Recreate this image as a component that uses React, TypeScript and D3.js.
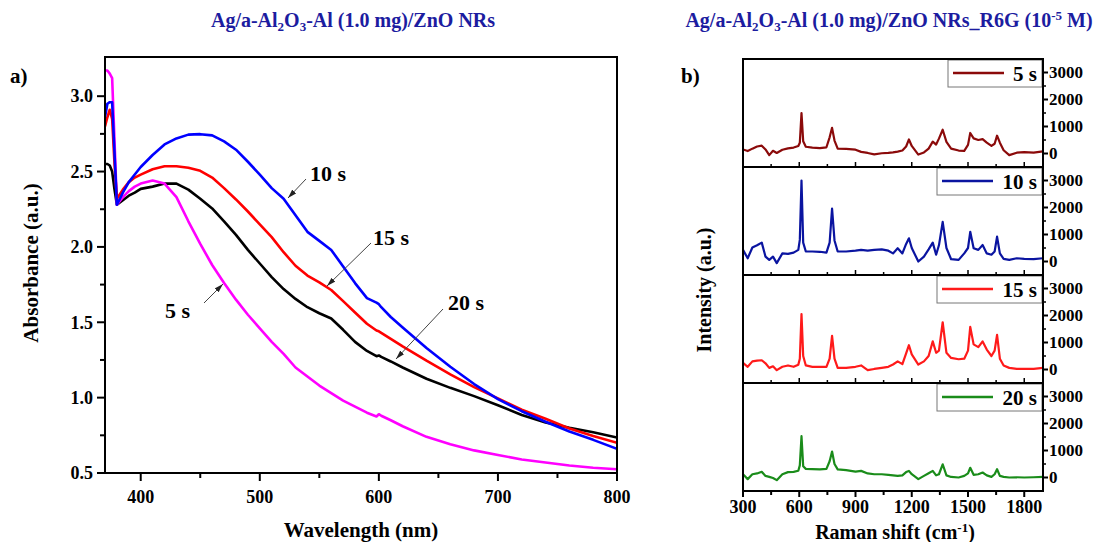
import React from "react";
import * as d3 from "d3";

// ---------- Panel a) UV-vis absorbance ----------
const wavelength = [370, 372, 374, 376, 378, 380, 385, 390, 395, 400, 410, 420, 430, 440, 450, 460, 470, 480, 490, 500, 510, 520, 530, 540, 550, 560, 570, 580, 590, 598, 600, 602, 610, 620, 640, 660, 680, 700, 720, 740, 760, 780, 800];
const abs5s = [3.17, 3.17, 3.15, 3.12, 2.70, 2.28, 2.33, 2.37, 2.40, 2.42, 2.44, 2.42, 2.33, 2.17, 2.02, 1.88, 1.76, 1.65, 1.55, 1.46, 1.37, 1.29, 1.20, 1.14, 1.08, 1.03, 0.98, 0.94, 0.90, 0.875, 0.89, 0.88, 0.85, 0.81, 0.74, 0.69, 0.65, 0.62, 0.59, 0.57, 0.55, 0.535, 0.525];
const abs10s = [2.86, 2.95, 2.96, 2.96, 2.62, 2.28, 2.36, 2.43, 2.48, 2.53, 2.61, 2.68, 2.72, 2.745, 2.748, 2.74, 2.70, 2.645, 2.565, 2.48, 2.39, 2.32, 2.21, 2.10, 2.04, 1.98, 1.87, 1.76, 1.66, 1.63, 1.62, 1.60, 1.535, 1.465, 1.33, 1.205, 1.09, 0.99, 0.91, 0.84, 0.775, 0.72, 0.66];
const abs15s = [2.80, 2.86, 2.91, 2.85, 2.55, 2.32, 2.38, 2.43, 2.46, 2.48, 2.515, 2.535, 2.535, 2.525, 2.505, 2.46, 2.39, 2.315, 2.235, 2.15, 2.065, 1.965, 1.875, 1.81, 1.765, 1.714, 1.64, 1.565, 1.49, 1.445, 1.44, 1.43, 1.39, 1.34, 1.245, 1.155, 1.07, 0.995, 0.92, 0.86, 0.795, 0.745, 0.70];
const abs20s = [2.55, 2.55, 2.54, 2.50, 2.38, 2.28, 2.31, 2.34, 2.36, 2.385, 2.40, 2.42, 2.42, 2.38, 2.32, 2.255, 2.17, 2.08, 1.98, 1.89, 1.80, 1.72, 1.655, 1.60, 1.56, 1.525, 1.45, 1.37, 1.31, 1.275, 1.28, 1.27, 1.24, 1.20, 1.125, 1.065, 1.01, 0.95, 0.885, 0.835, 0.80, 0.77, 0.735];
const absColors = ["#ff00ff", "#0000ff", "#ff0000", "#000000"];
const absYTicks = [0.5, 1.0, 1.5, 2.0, 2.5, 3.0];
const absYMinor = [0.75, 1.25, 1.75, 2.25, 2.75];
const wlTicks = [400, 500, 600, 700, 800];
const wlMinor = [450, 550, 650, 750];

// ---------- Panel b) Raman spectra ----------
const ramanShift = [300, 325, 350, 375, 400, 420, 440, 460, 480, 510, 540, 570, 595, 603, 612, 621, 635, 670, 710, 745, 762, 775, 788, 805, 850, 900, 930, 965, 1000, 1040, 1075, 1100, 1125, 1150, 1170, 1185, 1200, 1235, 1265, 1290, 1312, 1330, 1345, 1365, 1385, 1410, 1450, 1480, 1500, 1512, 1530, 1555, 1578, 1600, 1625, 1642, 1655, 1670, 1690, 1720, 1760, 1800, 1850, 1900];
const raman5s = [150, 90, 180, 260, 290, 150, -60, 100, 20, 140, 190, 220, 280, 400, 1500, 450, 250, 220, 200, 230, 600, 950, 480, 180, 170, 140, 60, 20, -30, 10, 20, 40, 70, 110, 260, 520, 280, -40, 40, 180, 440, 330, 550, 880, 430, 180, 110, 100, 320, 760, 560, 500, 530, 400, 280, 360, 660, 400, 120, -60, 30, 50, 30, 80];
const raman10s = [430, 120, 520, 600, 700, 180, 60, 180, -60, 300, 280, 330, 430, 800, 3000, 700, 370, 370, 360, 330, 700, 1960, 780, 370, 370, 400, 430, 400, 430, 450, 400, 300, 490, 300, 650, 860, 500, 0, 180, 450, 700, 250, 600, 1470, 500, 85, 60, 300, 500, 1100, 490, 430, 610, 300, 250, 370, 920, 300, 100, 60, 120, 100, 85, 120];
const raman15s = [245, 100, 300, 330, 343, 230, 60, 120, -25, 100, 150, 100, 180, 400, 2050, 500, 150, 100, 100, 100, 400, 1250, 400, 60, 60, 100, 150, -25, 20, 60, 100, 184, 300, 200, 600, 900, 560, 184, 300, 500, 1040, 620, 700, 1750, 620, 430, 380, 400, 700, 1580, 930, 830, 1040, 740, 500, 700, 1280, 400, 150, 60, 25, 25, 25, 60];
const raman20s = [120, -60, 120, 150, 210, 60, 24, -20, -98, 122, 200, 210, 250, 450, 1530, 420, 320, 310, 300, 320, 600, 960, 500, 300, 270, 220, 245, 150, 120, 120, 100, 80, 60, 80, 200, 245, 122, -60, 60, 160, 245, 80, 120, 490, 80, 20, 0, 60, 150, 360, 100, 120, 184, 80, 24, 120, 306, 60, 24, 0, 10, 0, 10, 24];
const ramanNames = ["5 s", "10 s", "15 s", "20 s"];
const ramanColors = ["#8b0a0a", "#0a14a0", "#ff1a1a", "#1a8c1a"];
const ramanXTicks = [300, 600, 900, 1200, 1500, 1800];
const ramanXMinor = [450, 750, 1050, 1350, 1650];
const ramanYTicks = [0, 1000, 2000, 3000];
const ramanYMinor = [500, 1500, 2500];

const FONT = "'Liberation Serif','Times New Roman',serif";
const TITLE_COLOR = "#1c1ca0";

export default function App() {
  const aL = 105, aR = 617, aT = 57, aB = 473;
  const xA = d3.scaleLinear().domain([370, 800]).range([aL, aR]);
  const yA = d3.scaleLinear().domain([0.5, 3.26]).range([aB, aT]);
  const absData = [abs5s, abs10s, abs15s, abs20s];
  const lineA = d3.line<number>().x((_, i) => xA(wavelength[i])).y((d) => yA(d));
  const drawOrder = [3, 0, 2, 1];

  const bL = 743, bR = 1043, bT = 59, panelH = 108;
  const bB = bT + panelH * 4;
  const xB = d3.scaleLinear().domain([300, 1900]).range([bL, bR]);
  const ramanData = [raman5s, raman10s, raman15s, raman20s];

  const annotations = [
    { label: "10 s", tx: 310, ty: 181, x1: 306, y1: 179, x2: 288, y2: 198 },
    { label: "15 s", tx: 373, ty: 245, x1: 371, y1: 243, x2: 327, y2: 286 },
    { label: "20 s", tx: 448, ty: 310, x1: 443, y1: 309, x2: 396, y2: 359 },
    { label: "5 s", tx: 165, ty: 318, x1: 204, y1: 303, x2: 223, y2: 284 },
  ];

  return (
    <svg width={1098} height={542} style={{ position: "absolute", left: 0, top: 0, background: "#fff" }} fontFamily={FONT} fontWeight="bold">
      <defs>
        <clipPath id="clipA"><rect x={aL} y={aT} width={aR - aL} height={aB - aT} /></clipPath>
        {ramanData.map((_, p) => (
          <clipPath id={`clipB${p}`} key={p}><rect x={bL} y={bT + p * panelH} width={bR - bL} height={panelH} /></clipPath>
        ))}
        <marker id="arr" viewBox="0 0 10 6" refX={10} refY={3} markerWidth={9} markerHeight={6} markerUnits="userSpaceOnUse" orient="auto">
          <path d="M0,0 L10,3 L0,6 z" fill="#222" />
        </marker>
      </defs>

      {/* Titles */}
      <text x={353} y={27} textAnchor="middle" fontSize={20} fill={TITLE_COLOR}>
        Ag/a-Al<tspan dy={4} fontSize={13}>2</tspan><tspan dy={-4}>O</tspan><tspan dy={4} fontSize={13}>3</tspan><tspan dy={-4}>-Al (1.0 mg)/ZnO NRs</tspan>
      </text>
      <text x={889} y={27} textAnchor="middle" fontSize={20} fill={TITLE_COLOR}>
        Ag/a-Al<tspan dy={4} fontSize={13}>2</tspan><tspan dy={-4}>O</tspan><tspan dy={4} fontSize={13}>3</tspan><tspan dy={-4}>-Al (1.0 mg)/ZnO NRs_R6G (10</tspan><tspan dy={-7} fontSize={13}>-5</tspan><tspan dy={7}> M)</tspan>
      </text>

      {/* ===== Panel a ===== */}
      <text x={10} y={83} fontSize={21}>a)</text>
      <g clipPath="url(#clipA)">
        {drawOrder.map((s) => (
          <path key={s} d={lineA(absData[s]) || ""} fill="none" stroke={absColors[s]} strokeWidth={2.6} strokeLinejoin="round" />
        ))}
      </g>
      <rect x={aL} y={aT} width={aR - aL} height={aB - aT} fill="none" stroke="#000" strokeWidth={2} />
      {absYTicks.map((v) => (
        <g key={v}>
          <line x1={aL - 8} x2={aL} y1={yA(v)} y2={yA(v)} stroke="#000" strokeWidth={2} />
          <text x={aL - 12} y={yA(v)} dy="0.35em" textAnchor="end" fontSize={18}>{v.toFixed(1)}</text>
        </g>
      ))}
      {absYMinor.map((v) => (
        <line key={v} x1={aL - 5} x2={aL} y1={yA(v)} y2={yA(v)} stroke="#000" strokeWidth={2} />
      ))}
      {wlTicks.map((v) => (
        <g key={v}>
          <line x1={xA(v)} x2={xA(v)} y1={aB} y2={aB + 8} stroke="#000" strokeWidth={2} />
          <text x={xA(v)} y={503} textAnchor="middle" fontSize={18}>{v}</text>
        </g>
      ))}
      {wlMinor.map((v) => (
        <line key={v} x1={xA(v)} x2={xA(v)} y1={aB} y2={aB + 5} stroke="#000" strokeWidth={2} />
      ))}
      <text x={361} y={537} textAnchor="middle" fontSize={21}>Wavelength (nm)</text>
      <text transform={`translate(38,263) rotate(-90)`} textAnchor="middle" fontSize={21}>Absorbance (a.u.)</text>
      {annotations.map((a) => (
        <g key={a.label}>
          <line x1={a.x1} y1={a.y1} x2={a.x2} y2={a.y2} stroke="#444" strokeWidth={1} markerEnd="url(#arr)" />
          <text x={a.tx} y={a.ty} fontSize={22}>{a.label}</text>
        </g>
      ))}

      {/* ===== Panel b ===== */}
      <text x={681} y={83} fontSize={21}>b)</text>
      {ramanData.map((series, p) => {
        const top = bT + p * panelH;
        const yB = d3.scaleLinear().domain([-500, 3500]).range([top + panelH, top]);
        const lineB = d3.line<number>().x((_, i) => xB(ramanShift[i])).y((d) => yB(d));
        const label = ramanNames[p];
        const textW = label.length > 3 ? 37 : 26;
        const boxW = 5 + 51 + 7 + textW + 5;
        const boxL = bR - 1 - boxW;
        return (
          <g key={p}>
            <g clipPath={`url(#clipB${p})`}>
              <path d={lineB(series) || ""} fill="none" stroke={ramanColors[p]} strokeWidth={2.2} strokeLinejoin="round" />
            </g>
            {ramanYTicks.map((v) => (
              <g key={v}>
                <line x1={bR} x2={bR + 5} y1={yB(v)} y2={yB(v)} stroke="#000" strokeWidth={2} />
                <text x={bR + 6} y={yB(v)} dy="0.35em" fontSize={17}>{v}</text>
              </g>
            ))}
            {ramanYMinor.map((v) => (
              <line key={v} x1={bR} x2={bR + 3} y1={yB(v)} y2={yB(v)} stroke="#000" strokeWidth={1.5} />
            ))}
            {p < 3 && ramanXTicks.map((v) => (
              <line key={`M${v}`} x1={xB(v)} x2={xB(v)} y1={top + panelH} y2={top + panelH - 5} stroke="#000" strokeWidth={1.5} />
            ))}
            {p < 3 && ramanXMinor.map((v) => (
              <line key={`m${v}`} x1={xB(v)} x2={xB(v)} y1={top + panelH} y2={top + panelH - 3} stroke="#000" strokeWidth={1.5} />
            ))}
            <rect x={boxL} y={top + 1} width={boxW} height={27} fill="#fff" stroke="#777" strokeWidth={1} />
            <line x1={boxL + 5} x2={boxL + 56} y1={top + 14} y2={top + 14} stroke={ramanColors[p]} strokeWidth={2.5} />
            <text x={bR - 6} y={top + 22} textAnchor="end" fontSize={21}>{label}</text>
            {p > 0 && <line x1={bL} x2={bR} y1={top} y2={top} stroke="#000" strokeWidth={2} />}
          </g>
        );
      })}
      <rect x={bL} y={bT} width={bR - bL} height={bB - bT} fill="none" stroke="#000" strokeWidth={2} />
      {ramanXTicks.map((v) => (
        <g key={v}>
          <line x1={xB(v)} x2={xB(v)} y1={bB} y2={bB + 6} stroke="#000" strokeWidth={2} />
          <text x={xB(v)} y={513} textAnchor="middle" fontSize={18}>{v}</text>
        </g>
      ))}
      {ramanXMinor.map((v) => (
        <line key={v} x1={xB(v)} x2={xB(v)} y1={bB} y2={bB + 4} stroke="#000" strokeWidth={2} />
      ))}
      <text x={895} y={539} textAnchor="middle" fontSize={20}>
        Raman shift (cm<tspan dy={-7} fontSize={13}>-1</tspan><tspan dy={7}>)</tspan>
      </text>
      <text transform={`translate(711,290) rotate(-90)`} textAnchor="middle" fontSize={20}>Intensity (a.u.)</text>
    </svg>
  );
}
